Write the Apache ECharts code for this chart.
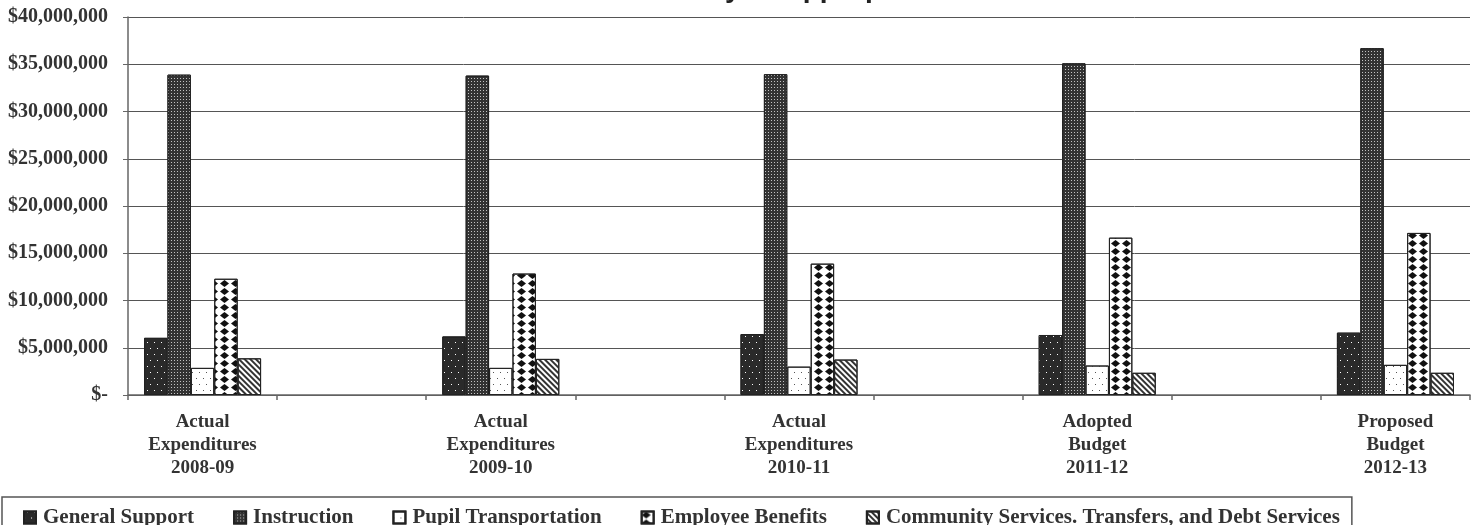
<!DOCTYPE html>
<html>
<head>
<meta charset="utf-8">
<style>
  html, body { margin: 0; padding: 0; background: #fff; }
  #chart { width: 1472px; height: 525px; }
</style>
<script src="https://cdn.jsdelivr.net/npm/echarts@6/dist/echarts.min.js"></script>
</head>
<body>
<div id="chart"></div>
<script>
// Budget periods (x axis) and the five appropriation functions (series)
const periods = [
  'Actual\nExpenditures\n2008-09',
  'Actual\nExpenditures\n2009-10',
  'Actual\nExpenditures\n2010-11',
  'Adopted\nBudget\n2011-12',
  'Proposed\nBudget\n2012-13'
];
const generalSupport      = [6050000, 6200000, 6450000, 6350000, 6600000];
const instruction         = [33900000, 33800000, 33950000, 35100000, 36700000];
const pupilTransportation = [2870000, 2870000, 3000000, 3120000, 3190000];
const employeeBenefits    = [12300000, 12850000, 13900000, 16650000, 17150000];
const communityServices   = [3880000, 3820000, 3750000, 2350000, 2350000];
const yTicks = { min: 0, max: 40000000, step: 5000000 };
const titleText = 'Summary of Appropriations';

// Each period is followed by an empty slot, giving the spaced-out groups
function spread(arr, filler) {
  const out = [];
  arr.forEach((v, i) => { out.push(v); if (i < arr.length - 1) out.push(filler); });
  return out;
}

const TEXT = '#333';
const SERIF = '"Liberation Serif", "Times New Roman", serif';

const seriesDefs = [
  {
    name: 'General Support', data: generalSupport, color: '#2a2a2a',
    decal: { symbol: 'rect', color: '#ffffff', symbolSize: 1, symbolKeepAspect: false,
             dashArrayX: [[1, 6], [0, 3, 1, 3]], dashArrayY: [1, 5] }
  },
  {
    name: 'Instruction', data: instruction, color: '#333333',
    decal: { symbol: 'rect', color: 'rgba(255,255,255,0.7)', symbolSize: 1, symbolKeepAspect: false,
             dashArrayX: [1, 2], dashArrayY: [1, 2] }
  },
  {
    name: 'Pupil Transportation', data: pupilTransportation, color: '#ffffff',
    decal: { symbol: 'rect', color: '#555', symbolSize: 1, symbolKeepAspect: false,
             dashArrayX: [[1, 6], [0, 3, 1, 3]], dashArrayY: [1, 5] }
  },
  {
    name: 'Employee Benefits', data: employeeBenefits, color: '#ffffff',
    decal: { symbol: 'diamond', color: '#111', symbolSize: 1, symbolKeepAspect: false,
             dashArrayX: [[9, 2]], dashArrayY: [7, 1] }
  },
  {
    name: 'Community Services. Transfers, and Debt Services', data: communityServices, color: '#ffffff',
    decal: { symbol: 'rect', color: '#333', symbolSize: 1, symbolKeepAspect: false,
             dashArrayX: [1, 0], dashArrayY: [2, 2], rotation: Math.PI / 4 }
  }
];

const chart = echarts.init(document.getElementById('chart'), null, { renderer: 'canvas' });

chart.setOption({
  animation: false,
  backgroundColor: '#ffffff',
  graphic: [{
    type: 'text',
    x: 798,
    y: -11,
    style: {
      text: titleText,
      x: 0, y: 0,
      fill: '#222',
      font: 'bold 28px "Liberation Sans", Arial, sans-serif',
      textAlign: 'center',
      textVerticalAlign: 'middle'
    }
  }],
  grid: { left: 128, right: 2, top: 17, bottom: 130, containLabel: false },
  xAxis: {
    type: 'category',
    data: spread(periods, ''),
    boundaryGap: true,
    axisLine: { lineStyle: { color: '#666', width: 1.5 } },
    axisTick: { show: true, interval: 0, length: 5, lineStyle: { color: '#666', width: 1.5 } },
    axisLabel: {
      interval: 0,
      margin: 16,
      color: TEXT,
      fontFamily: SERIF,
      fontWeight: 'bold',
      fontSize: 19,
      lineHeight: 23,
      align: 'center'
    },
    splitLine: { show: false }
  },
  yAxis: {
    type: 'value',
    min: yTicks.min,
    max: yTicks.max,
    interval: yTicks.step,
    axisLine: { show: true, lineStyle: { color: '#666', width: 1.5 } },
    axisTick: { show: true, length: 5, lineStyle: { color: '#666' } },
    splitLine: { lineStyle: { color: '#555', width: 1 } },
    axisLabel: {
      margin: 20,
      color: TEXT,
      fontFamily: SERIF,
      fontWeight: 'bold',
      fontSize: 20,
      padding: [3, 0, 0, 0],
      formatter: v => v === 0 ? '$-' : '$' + v.toLocaleString('en-US')
    }
  },
  legend: {
    left: 2,
    top: 497,
    orient: 'horizontal',
    padding: [10, 12, 20, 21],
    itemGap: 39,
    itemWidth: 12,
    itemHeight: 12,
    borderColor: '#555',
    borderWidth: 1.5,
    icon: 'rect',
    textStyle: {
      color: TEXT,
      fontFamily: SERIF,
      fontWeight: 'bold',
      fontSize: 21,
      padding: [0, 0, 0, 2]
    },
    data: seriesDefs.map(s => s.name)
  },
  series: seriesDefs.map(s => ({
    name: s.name,
    type: 'bar',
    data: spread(s.data, null),
    barGap: '0%',
    barCategoryGap: '21.5%',
    itemStyle: {
      color: s.color,
      borderColor: '#222',
      borderWidth: 1,
      decal: s.decal
    },
    emphasis: { disabled: true }
  }))
});
</script>
</body>
</html>
